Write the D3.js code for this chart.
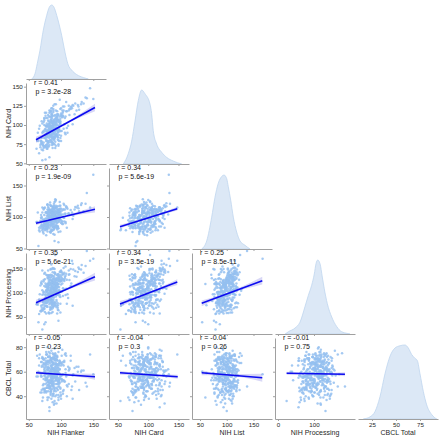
<!DOCTYPE html>
<html><head><meta charset="utf-8">
<script src="https://cdn.jsdelivr.net/npm/d3@7"></script>
<style>body{margin:0;background:#fff} svg{display:block} text{font-family:"Liberation Sans",Arial,sans-serif}</style>
</head><body>
<svg id="c" width="440" height="437"></svg>
<script>
const variables = ["NIH Flanker","NIH Card","NIH List","NIH Processing","CBCL Total"];

const flanker = [82,95,71,88,104,79,91,86,67,99,112,84,76,93,88,73,101,85,90,78,126,87,69,94,83,
97,81,75,89,108,92,84,63,86,100,77,95,118,83,88,72,91,80,98,86,74,105,89,93,79,
85,140,90,76,96,82,88,102,70,87,94,81,113,78,91,84,99,65,89,97,83,77,92,107,86,
80,93,74,88,121,85,96,79,90,68,103,87,82,95,76,89,110,84,98,72,91,86,131,81,94,
78,88,100,83,73,92,87,116,80,95,85,71,97,90,82,106,77,89,93,84,150,79,96,86,62,
91,84,75,99,88,81,109,94,78,87,92,70,85,101,83,96,74,89,124,80,93,86,77,98,90,
82,104,87,73,95,85,79,91,115,88,76,97,84,69,92,83,102,89,80,94,86,135,78,90,99,
85,72,93,81,88,107,77,96,84,90,66,100,87,79,94,83,119,91,75,86,98,82,89,74,95,
88,80,103,85,92,77,97,84,71,90,111,86,81,94,79,99,87,64,93,83,105,89,76,96,84,
91,78,87,128,82,95,73,89,100,85,80,93,117,88,76,97,84,90,70,86,145,81,94,79,92,
86,79,93,74,101,88,83,97,70,90,84,109,77,92,81,95,87,73,99,85,122,80,91,76,88,
94,82,71,89,104,86,78,96,83,91,68,100,87,80,93,75,113,84,98,79,90,86,127,81,95,
77,92,85,103,72,88,95,81,107,84,90,66,97,83,79,93,88,118,76,91,85,99,74,89,82,
96,80,87,73,105,89,84,94,78,92,138,85,81,97,70,88,102,83,90,76,95,86,112,79,93,
84,91,75,99,87,82,106,78,93,85,69,96,88,80,101,74,90,84,115,81,94,87,77,98,89,
83,100,76,92,86,80,97,71,89,108,84,94,79,91,87,73,103,85,96,82,88,132,78,93,86];

const card = [102,84,90,117,95,79,102,74,99,103,125,87,55,107,92,104,92,122,82,91,126,77,79,118,97,
95,105,72,103,130,86,95,79,113,79,98,114,101,92,125,74,103,72,111,87,109,101,80,102,100,
97,135,75,99,93,116,83,110,77,112,96,77,113,102,70,94,121,79,105,87,85,116,100,88,105,
77,104,106,85,114,107,75,98,112,74,124,91,119,91,86,107,90,98,133,67,91,109,127,90,86,
98,76,113,87,92,119,82,124,92,90,111,54,106,94,102,90,109,99,87,119,134,86,113,77,69,
108,86,94,83,119,94,96,111,69,102,127,83,80,111,111,73,100,88,119,106,94,115,74,103,84,
83,119,99,73,107,114,89,78,121,96,112,93,107,76,73,99,119,106,78,93,122,128,93,85,108,
107,91,86,111,75,111,99,91,118,93,95,86,97,69,114,100,125,92,116,84,103,74,104,108,93,
91,113,112,77,109,84,79,98,102,127,99,104,79,100,109,92,70,90,111,92,124,82,95,80,117,
106,79,112,120,58,113,91,89,122,78,99,96,122,121,71,104,104,84,105,89,148,72,105,92,88,
99,null,88,83,112,null,104,92,78,null,96,118,81,null,90,107,null,70,101,85,128,null,96,88,null,
110,null,75,94,null,102,87,null,80,113,71,null,93,84,105,null,121,97,null,76,100,null,124,89,null,
85,null,96,117,null,92,81,100,null,110,84,63,null,95,86,null,99,126,73,null,104,92,null,82,97,
null,89,103,77,null,95,80,108,null,87,136,null,94,99,68,null,115,86,null,92,84,null,119,74,null,
92,null,83,105,98,null,109,71,null,94,79,null,101,88,112,null,85,null,123,96,null,90,79,null,102,
88,115,null,97,83,null,106,76,null,118,93,null,85,102,null,72,111,null,99,91,null,130,84,null,95];

const list = [105,85,107,96,121,83,102,103,77,107,106,118,81,87,98,112,90,111,62,107,118,89,99,85,123,
93,111,92,80,117,118,85,92,98,113,71,112,97,107,104,76,125,86,113,78,103,93,112,96,81,
100,138,84,107,92,101,113,89,98,79,105,103,103,80,114,97,113,54,114,95,76,108,127,92,93,
103,92,114,73,112,107,82,119,100,94,89,110,94,117,82,102,113,77,104,95,128,88,119,110,83,
92,108,95,101,74,115,116,104,98,85,117,79,110,72,111,105,86,118,95,110,167,77,105,106,92,
109,80,115,99,94,111,83,108,102,94,83,100,118,93,100,112,87,81,115,116,86,108,88,124,89,
83,112,113,84,84,111,120,86,111,116,84,107,77,103,99,93,93,121,101,80,105,109,106,95,118,
105,81,116,93,106,90,98,76,111,124,83,103,84,107,101,108,102,101,79,110,96,100,83,97,109,
84,107,100,112,85,97,109,87,115,97,105,80,103,98,112,77,98,107,91,119,99,98,80,60,97,
105,107,89,109,99,82,114,103,91,105,89,116,107,85,93,111,75,109,86,96,115,110,91,120,84,
98,92,null,86,110,104,null,97,88,103,null,115,91,94,null,108,96,82,null,100,116,87,null,93,102,
null,95,84,107,99,null,90,111,93,null,85,104,null,98,113,88,null,102,118,null,92,106,114,null,97,
89,101,null,112,94,99,107,null,105,91,null,79,100,96,null,110,87,null,93,104,98,null,90,117,null,
103,null,96,88,119,null,92,106,84,null,121,99,null,109,86,95,null,101,113,null,97,90,null,83,108,
null,99,87,null,104,93,112,null,96,101,82,null,107,91,null,95,103,88,null,114,100,null,86,109,92,
97,null,90,106,null,85,102,94,null,115,98,null,89,100,111,null,104,93,null,88,105,122,null,96,99];

const processing = [121,74,105,71,138,85,140,81,97,59,137,131,73,116,71,123,102,158,74,104,143,60,120,101,127,
101,132,60,117,108,112,137,77,85,117,137,113,73,121,122,66,178,84,102,119,67,124,106,82,113,
125,186,80,112,64,136,98,128,63,109,96,136,126,79,113,68,144,39,128,102,126,86,104,154,90,
108,85,139,83,134,70,118,109,80,115,109,120,57,138,89,150,97,106,143,63,108,122,148,59,110,
79,110,142,65,97,106,151,119,119,78,114,24,127,130,90,133,57,119,102,83,170,118,95,136,76,
118,78,141,77,126,105,77,136,86,149,98,123,80,124,104,138,35,119,133,96,130,75,101,96,149,
79,151,68,102,129,86,111,138,114,78,119,104,148,73,125,94,119,78,130,57,125,141,73,120,103,
133,81,70,115,130,95,116,42,119,142,86,125,78,135,104,110,148,73,128,101,92,132,90,114,65,
92,146,93,116,77,105,133,86,146,110,89,122,58,113,131,91,128,75,120,70,127,117,39,118,102,
124,71,142,149,76,69,126,102,146,66,111,95,166,86,97,102,149,74,118,110,166,84,73,136,101,
112,95,128,84,131,99,118,106,69,140,88,127,104,92,115,136,76,101,123,58,145,110,97,82,121,
119,87,96,134,108,74,113,125,99,103,62,144,91,117,107,80,138,94,129,71,111,100,152,89,124,
90,126,107,139,81,113,98,122,135,95,109,56,131,86,104,118,97,160,78,114,93,127,67,106,100,
132,98,115,76,141,103,92,120,85,110,155,97,126,112,64,121,137,88,105,94,118,83,146,101,129,
105,124,72,136,99,116,130,87,114,93,61,128,108,96,142,84,119,102,149,90,111,134,79,123,104,
97,133,88,117,109,82,125,74,102,139,93,115,106,121,98,69,128,111,135,89,104,157,85,119,107];

const cbcl = [58,45,71,62,53,39,66,50,74,57,61,48,69,55,42,64,52,77,59,47,60,35,68,54,72,
51,63,44,70,56,58,41,73,49,65,53,60,38,67,57,46,75,52,62,55,43,69,50,59,80,
64,48,56,71,37,61,54,66,45,58,72,51,63,47,69,55,40,60,74,53,57,44,67,62,50,
59,70,46,55,63,52,76,49,61,43,68,56,31,65,54,71,48,58,62,39,73,53,60,47,66,
54,42,67,60,50,73,57,45,64,52,70,36,59,62,48,74,55,44,66,51,58,69,41,63,56,
71,53,61,47,66,58,40,72,55,63,50,68,45,57,75,52,60,33,64,49,70,56,43,67,59,
46,65,52,70,58,38,62,55,73,48,60,67,42,56,63,51,78,57,44,69,53,61,47,72,58,
62,49,56,68,41,59,74,53,65,45,71,54,60,37,66,51,58,70,46,63,55,28,67,57,50,
57,72,44,61,53,66,48,70,59,34,64,55,69,50,62,43,75,56,60,47,68,52,65,39,71,
60,51,67,45,73,58,54,63,41,69,56,62,48,71,53,66,59,36,64,50,74,57,46,68,61,
55,68,47,62,73,51,59,65,43,70,57,49,64,53,76,60,46,67,56,71,52,63,40,58,66,
61,50,72,57,45,68,54,63,48,74,59,38,66,52,70,56,62,44,69,55,79,51,64,47,58,
67,53,60,42,71,56,63,49,75,58,46,65,54,69,61,34,72,57,50,64,55,68,45,62,59,
48,66,57,70,52,61,44,73,58,65,51,62,39,69,56,74,53,60,47,67,55,71,50,63,57,
70,56,63,46,68,59,52,74,41,65,57,61,49,72,54,66,60,43,69,53,64,58,76,51,62,
53,67,59,44,71,62,50,65,57,73,46,60,68,55,40,66,58,70,52,63,48,61,74,56,65];

// axis tick labels
const xTicks = [[50,100,150],[50,100,150],[50,100,150],[0,100],[25,50,75]];
const yTicks = [null,[50,75,100,125,150],[50,100,150],[50,100,150],[40,60,80]];
const xDomains = [[45.7,169.7],[35.1,167.4],[35,184.6],[-8.3,213.9],[10.4,93.75]];
const yDomains = [null,[49.1,154.8],[49.2,177.8],[14.7,182],[21.4,87.5]];

// diagonal density curves: [value, relative density]
const kdeFlanker = [[54.5,0],[59.6,.07],[63.2,.21],[67.4,.39],[72.5,.66],[77.8,.86],[81.8,.97],[85.5,1],[89.1,.97],[93.3,.86],[97.3,.73],[101,.59],[104.6,.43],[107.7,.30],[111.2,.19],[116.5,.12],[124.3,.06],[134.5,.02],[142.2,0]];
const kdeCard = [[58.8,0],[67,.14],[72.6,.31],[78.1,.58],[83.6,.86],[89.1,1],[94.6,.95],[102.9,.81],[105.6,.68],[108.3,.45],[113.9,.27],[122.1,.16],[130.4,.09],[141.3,.04],[155.2,0]];
const kdeList = [[53.2,0],[62.5,.11],[71.8,.43],[78,.70],[84.2,.89],[90.5,.98],[94.9,1],[99.9,.95],[102.9,.84],[107.4,.66],[112.3,.43],[118.5,.23],[124.8,.11],[134.1,.05],[143.5,0]];
const kdeProcessing = [[20,0],[28.7,.03],[47.2,.08],[61.1,.16],[75,.37],[84.2,.52],[93.6,.66],[100.8,.81],[105.6,.95],[110.3,1],[116.7,.95],[123.1,.77],[128.6,.61],[137,.41],[149.2,.23],[163.1,.10],[177,.03],[190.8,.01],[200,0]];
const kdeCbcl = [[16,0],[23,.03],[28.1,.10],[33.3,.30],[38.5,.61],[43.8,.85],[49,.96],[54.2,.99],[59.4,1],[62.8,.96],[66.4,.87],[69.8,.82],[72.2,.79],[75,.61],[78.5,.37],[82,.19],[87.2,.06],[92.4,0]];
const kdes = [kdeFlanker, kdeCard, kdeList, kdeProcessing, kdeCbcl];

// regression lines: row, col, x0, y0, x1, y1 (data units)
const regLines = [
 [1,0,61.2,80.7,152.6,122.8],
 [2,0,61.2,90,152.6,112.2],
 [3,0,61.2,79.3,152.6,133],
 [4,0,61.2,59.2,152.6,55.9],
 [2,1,53.3,84.6,148,113.2],
 [3,1,53.3,76.7,148,122],
 [4,1,53.3,59.2,148.7,55.9],
 [3,2,53.2,78.1,166.4,124.8],
 [4,2,53.2,59.2,166.4,55.1],
 [4,3,24,58.7,186,57.9]];
// confidence band half widths at start, narrowest, end (data units)
const ciHalf = [[4,1,5],[3,1,5],[6,2,8],[1.5,.5,2.5],[3,1,3],[6,2,6],[1.6,.5,1.6],[6,2,8],[2,.6,3.3],[1.2,.4,1.6]];
// annotations: row, col, r, p
const stats = [
 [1,0,"0.41","3.2e-28"],[2,0,"0.23","1.9e-09"],[3,0,"0.35","5.6e-21"],[4,0,"-0.05","0.23"],
 [2,1,"0.34","5.6e-19"],[3,1,"0.34","3.5e-19"],[4,1,"-0.04","0.3"],
 [3,2,"0.25","8.5e-11"],[4,2,"-0.04","0.26"],[4,3,"-0.01","0.75"]];

const cols = [flanker, card, list, processing, cbcl];
const svg = d3.select("#c");
const W = 80, H = 81;
const colLeft = j => 26 + 83*j, rowTop = i => -2 + 85*i;
const xs = xDomains.map((d,j) => d3.scaleLinear().domain(d).range([colLeft(j), colLeft(j)+W]));
const ys = yDomains.map((d,i) => d ? d3.scaleLinear().domain(d).range([rowTop(i)+H, rowTop(i)]) : null);
const spine = "#a0a0a0", txt = "#262626";
const FONT = '"Liberation Sans",Arial,sans-serif';

function styleAxis(g){
  g.attr("font-size",6.2).attr("font-family",FONT);
  g.select(".domain").attr("stroke",spine).attr("stroke-width",1);
  g.selectAll(".tick line").attr("stroke",spine);
  g.selectAll(".tick text").attr("fill",txt);
}
function bottomAxis(i,j,labels){
  const ax = d3.axisBottom(xs[j]).tickValues(xTicks[j]).tickSize(2).tickSizeOuter(0).tickPadding(1.5);
  if(!labels) ax.tickFormat("");
  svg.append("g").attr("transform",`translate(0,${rowTop(i)+H})`).call(ax).call(styleAxis);
}
function leftAxis(i,j,labels){
  const ax = d3.axisLeft(ys[i]).tickValues(yTicks[i]).tickSize(2).tickSizeOuter(0).tickPadding(1.2);
  if(!labels) ax.tickFormat("");
  svg.append("g").attr("transform",`translate(${colLeft(j)},0)`).call(ax).call(styleAxis);
}

// diagonal
kdes.forEach((k,i) => {
  const yk = d3.scaleLinear().domain([0,1]).range([rowTop(i)+H, rowTop(i)+H-74]);
  const area = d3.area().x(d=>xs[i](d[0])).y0(rowTop(i)+H).y1(d=>yk(d[1])).curve(d3.curveMonotoneX);
  svg.append("path").datum(k).attr("d",area).attr("fill","#dce8f6").attr("stroke","#bfd5ef").attr("stroke-width",0.8);
  bottomAxis(i,i,i===4);
});

// scatter panels
for(let i=1;i<5;i++){
  for(let j=0;j<i;j++){
    const pts = d3.range(flanker.length).filter(k => cols[j][k]!=null && cols[i][k]!=null);
    svg.append("g").selectAll("circle").data(pts).join("circle")
      .attr("cx",k=>xs[j](cols[j][k])).attr("cy",k=>ys[i](cols[i][k])).attr("r",1.25)
      .attr("fill","#94bff0").attr("fill-opacity",0.85);
    bottomAxis(i,j,i===4);
    leftAxis(i,j,j===0);
  }
}

// regression lines with CI band
regLines.forEach((r,n) => {
  const [i,j,x0,y0,x1,y1] = r;
  const w = ciHalf[n];
  const xm = d3.mean(cols[j]);
  const lineY = x => y0 + (y1-y0)*(x-x0)/(x1-x0);
  const band = [[x0,w[0]],[xm,w[1]],[x1,w[2]]];
  svg.append("path").datum(band)
    .attr("d", d3.area().x(d=>xs[j](d[0])).y0(d=>ys[i](lineY(d[0])-d[1])).y1(d=>ys[i](lineY(d[0])+d[1])).curve(d3.curveMonotoneX))
    .attr("fill","#8f8ce6").attr("fill-opacity",0.35);
  svg.append("line").attr("x1",xs[j](x0)).attr("y1",ys[i](y0)).attr("x2",xs[j](x1)).attr("y2",ys[i](y1))
    .attr("stroke","#0c0cf0").attr("stroke-width",1.6);
});

// annotations
stats.forEach(s => {
  const [i,j,r,p] = s;
  svg.append("text").attr("x",colLeft(j)+8).attr("y",rowTop(i)+1.5).attr("font-size",7).attr("fill","#111").text(`r = ${r}`);
  svg.append("text").attr("x",colLeft(j)+9.5).attr("y",rowTop(i)+10.5).attr("font-size",7).attr("fill","#111").text(`p = ${p}`);
});

// axis titles
variables.forEach((v,j) => {
  svg.append("text").attr("x",colLeft(j)+W/2).attr("y",434.5).attr("text-anchor","middle").attr("font-size",7).attr("fill",txt).text(v);
});
variables.forEach((v,i) => {
  if(i===0) return;
  const cy = rowTop(i)+H/2;
  svg.append("text").attr("transform",`translate(11,${cy}) rotate(-90)`).attr("text-anchor","middle").attr("font-size",7).attr("fill",txt).text(v);
});
</script>
</body></html>
